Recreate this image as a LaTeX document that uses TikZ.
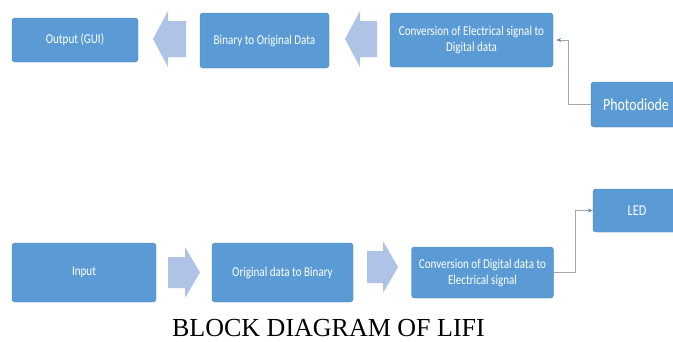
\documentclass[tikz,border=0pt]{standalone}
\usepackage{fontspec}
\setmainfont{Carlito}[FakeStretch=0.82]
\newfontfamily\capfont{Liberation Serif}
\usetikzlibrary{arrows.meta}

\definecolor{blockblue}{HTML}{5B9BD5}
\definecolor{blockedge}{HTML}{4A7EB0}
\definecolor{arrowblue}{HTML}{AEC3E6}
\definecolor{linegray}{HTML}{A6A6A6}
\definecolor{tipblue}{HTML}{6F8CB0}

\begin{document}
\begin{tikzpicture}[x=1pt, y=-1pt,
    block/.style = {draw=blockedge, fill=blockblue, rounded corners=3pt, text=white,
                    align=center, inner sep=0pt, font=\fontsize{13.5}{16}\selectfont},
    fatarrow/.style = {fill=arrowblue, draw=none},
    conn/.style = {draw=linegray, thin, -{Stealth[length=5pt, width=4pt, color=tipblue]}}]
    \useasboundingbox (0,0) rectangle (673,341);

    % transmitter side (bottom row)
    \node[block, minimum width=144, minimum height=59] (inp) at (84,272.5) {Input};
    \node[block, minimum width=141, minimum height=59] (orig) at (282.5,272.5) {Original data to Binary};
    \node[block, minimum width=142, minimum height=51] (convD) at (482.5,272.5) {Conversion of Digital data to\\Electrical signal};
    \node[block, minimum width=88, minimum height=43, font=\fontsize{15}{17}\selectfont] (led) at (637,210.5) {LED};

    % receiver side (top row)
    \node[block, minimum width=90, minimum height=45, font=\fontsize{17}{19}\selectfont] (photo) at (636,104.5) {Photodiode};
    \node[block, minimum width=163, minimum height=54] (convE) at (471.5,40) {Conversion of Electrical signal to\\Digital data};
    \node[block, minimum width=129, minimum height=55] (bin) at (264.5,40.5) {Binary to Original Data};
    \node[block, minimum width=126, minimum height=44] (out) at (75,40) {Output (GUI)};

    % block arrows
    \fill[fatarrow] (168,257) -- (185,257) -- (185,247) -- (200,272.5) -- (185,298) -- (185,288) -- (168,288) -- cycle;
    \fill[fatarrow] (367,251) -- (383,251) -- (383,241) -- (398,267) -- (383,293) -- (383,283) -- (367,283) -- cycle;
    \fill[fatarrow] (377,21) -- (360,21) -- (360,11) -- (345,39) -- (360,67) -- (360,57) -- (377,57) -- cycle;
    \fill[fatarrow] (186,21) -- (168,21) -- (168,11) -- (153,39) -- (168,67) -- (168,57) -- (186,57) -- cycle;

    % light link
    \draw[conn] (convD.east) -- ++(21,0) |- (led.west);
    \draw[conn, shorten >=3pt] (photo.west) -- ++(-23,0) |- (convE.east);

    \node[font=\capfont\fontsize{26}{30}\selectfont, anchor=base, inner sep=0pt] (title) at (328.5,336) {BLOCK DIAGRAM OF LIFI};
\end{tikzpicture}
\end{document}
